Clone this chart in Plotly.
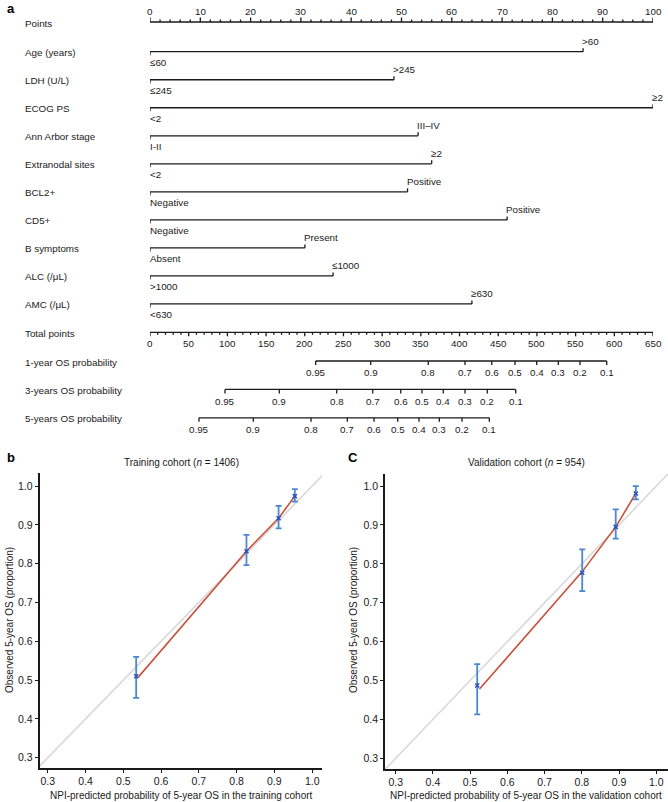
import plotly.graph_objects as go

W, H = 668, 802
FONT = "Liberation Sans, Arial, Helvetica, sans-serif"
INK = "#1a1a1a"

# ---------------- Nomogram data ----------------
variables = ["Age (years)", "LDH (U/L)", "ECOG PS", "Ann Arbor stage", "Extranodal sites",
             "BCL2+", "CD5+", "B symptoms", "ALC (/μL)", "AMC (/μL)"]
low_levels = ["≤60", "≤245", "<2", "I-II", "<2", "Negative", "Negative", "Absent", ">1000", "<630"]
high_levels = [">60", ">245", "≥2", "III–IV", "≥2", "Positive", "Positive", "Present", "≤1000", "≥630"]
high_points = [86.1, 48.5, 100, 53.3, 56.0, 51.2, 71.0, 30.8, 36.4, 64.0]

points_major = list(range(0, 101, 10))
points_minor = [v for v in range(0, 101, 2) if v % 10]
total_major = list(range(0, 651, 50))
total_minor = [v for v in range(0, 651, 10) if v % 50]
TOTAL_MAX = 650

prob_rows = ["1-year OS probability", "3-years OS probability", "5-years OS probability"]
prob_labels = ["0.95", "0.9", "0.8", "0.7", "0.6", "0.5", "0.4", "0.3", "0.2", "0.1"]
os1_total = [214.1, 285.2, 359.6, 407.1, 441.6, 471.7, 499.7, 527.6, 555.7, 590.2]
os3_total = [96.9, 167.1, 241.3, 287.8, 324.0, 351.5, 379.0, 407.1, 435.9, 472.6]
os5_total = [63.3, 133.5, 208.1, 255.0, 289.5, 320.1, 347.6, 373.9, 403.2, 438.5]

# ---------------- Calibration data ----------------
cal_ticks = [0.3, 0.4, 0.5, 0.6, 0.7, 0.8, 0.9, 1.0]
cal_ticktext = ["0.3", "0.4", "0.5", "0.6", "0.7", "0.8", "0.9", "1.0"]

train_pred = [0.534, 0.826, 0.911, 0.954]
train_obs = [0.510, 0.832, 0.917, 0.974]
train_hi = [0.560, 0.874, 0.949, 0.992]
train_lo = [0.454, 0.796, 0.891, 0.960]
train_curve_x = [0.539, 0.826, 0.911, 0.954]
train_curve_y = [0.507, 0.832, 0.917, 0.974]

valid_pred = [0.519, 0.801, 0.891, 0.945]
valid_obs = [0.487, 0.777, 0.895, 0.981]
valid_hi = [0.542, 0.837, 0.940, 1.000]
valid_lo = [0.413, 0.730, 0.865, 0.966]
valid_curve_x = [0.525, 0.801, 0.891, 0.945]
valid_curve_y = [0.478, 0.780, 0.895, 0.981]

# ---------------- Layout helpers (pixel positions) ----------------
def px(x):
    return x / W

def py(y):
    return 1 - y / H

NOMO_BOTTOM = 440
POINTS_Y = 22
var_y = [51.7 + 28.03 * i for i in range(len(variables))]
TOTAL_Y = 332.3
prob_y = [361.0, 389.4, 417.8]

def to_pts(total):
    return total * 100.0 / TOTAL_MAX

fig = go.Figure()
ann = []

def seg_trace(xs, y0, y1, width=1.3, axis=("x", "y")):
    X, Y = [], []
    for v in xs:
        X += [v, v, None]
        Y += [y0, y1, None]
    fig.add_trace(go.Scatter(x=X, y=Y, mode="lines", line=dict(color=INK, width=width),
                             hoverinfo="skip", showlegend=False, xaxis=axis[0], yaxis=axis[1]))

def hline(x0, x1, y, width=1.3):
    fig.add_trace(go.Scatter(x=[x0, x1], y=[y, y], mode="lines", line=dict(color=INK, width=width),
                             hoverinfo="skip", showlegend=False, xaxis="x", yaxis="y"))

def text(x, y, s, xanchor="center", xref="x", yref="y", size=9.8, xshift=0):
    ann.append(dict(x=x, y=y, xref=xref, yref=yref, text=s, showarrow=False,
                    xanchor=xanchor, yanchor="middle", xshift=xshift,
                    font=dict(family=FONT, size=size, color=INK)))

# Row labels
row_names = ["Points"] + variables + ["Total points"] + prob_rows
row_ys = [POINTS_Y] + var_y + [TOTAL_Y] + prob_y
for name, y in zip(row_names, row_ys):
    text(px(23), y + 1, name, xanchor="left", xref="paper")

# Points axis
hline(0, 100, POINTS_Y)
seg_trace(points_major, POINTS_Y, POINTS_Y - 4.5)
seg_trace(points_minor, POINTS_Y, POINTS_Y - 2.5)
for v in points_major:
    text(v, POINTS_Y - 11, str(v))

# Variable axes
for y, lo, hi, hp in zip(var_y, low_levels, high_levels, high_points):
    hline(0, hp, y)
    seg_trace([0], y, y + 3.5)
    seg_trace([hp], y, y - 3.5)
    text(0, y + 10.5, lo, xanchor="left", xshift=-2)
    text(hp, y - 10.3, hi, xanchor="left", xshift=-3)

# Total points axis
hline(0, 100, TOTAL_Y)
seg_trace([to_pts(v) for v in total_major], TOTAL_Y, TOTAL_Y + 4)
seg_trace([to_pts(v) for v in total_minor], TOTAL_Y, TOTAL_Y + 2.5)
for v in total_major:
    text(to_pts(v), TOTAL_Y + 11.5, str(v))

# Probability axes
for y, totals in zip(prob_y, [os1_total, os3_total, os5_total]):
    xs = [to_pts(t) for t in totals]
    hline(xs[0], xs[-1], y)
    seg_trace(xs, y, y + 4)
    for xv, lab in zip(xs, prob_labels):
        text(xv, y + 11.7, lab)

# ---------------- Calibration plots ----------------
def cal_panel(xa, ya, pred, obs, hi, lo, cx, cy):
    fig.add_trace(go.Scatter(x=[0.2, 1.1], y=[0.2, 1.1], mode="lines",
                             line=dict(color="#d9d9d9", width=1.6),
                             hoverinfo="skip", showlegend=False, xaxis=xa, yaxis=ya))
    fig.add_trace(go.Scatter(x=cx, y=cy, mode="lines",
                             line=dict(color="#c8503c", width=1.6),
                             hoverinfo="skip", showlegend=False, xaxis=xa, yaxis=ya))
    fig.add_trace(go.Scatter(
        x=pred, y=obs, mode="markers",
        marker=dict(symbol="x-thin", size=4, color="#2f4fb5", line=dict(color="#2f4fb5", width=1.5)),
        error_y=dict(type="data", symmetric=False,
                     array=[h - o for h, o in zip(hi, obs)],
                     arrayminus=[o - l for o, l in zip(obs, lo)],
                     color="#4a88d4", thickness=1.8, width=3),
        showlegend=False, xaxis=xa, yaxis=ya))

cal_panel("x2", "y2", train_pred, train_obs, train_hi, train_lo, train_curve_x, train_curve_y)
cal_panel("x3", "y3", valid_pred, valid_obs, valid_hi, valid_lo, valid_curve_x, valid_curve_y)

def cal_axis(domain, rng, anchor):
    return dict(domain=domain, range=rng, anchor=anchor, tickvals=cal_ticks, ticktext=cal_ticktext,
                showline=True, linecolor=INK, linewidth=1.5, ticks="outside", ticklen=3,
                tickcolor=INK, tickwidth=1, showgrid=False, zeroline=False,
                tickfont=dict(family=FONT, size=10.5, color=INK))

# panel letters
for x, y, s in [(5, 8, "a"), (5, 457, "b"), (346, 457, "C")]:
    ann.append(dict(x=px(x), y=py(y), xref="paper", yref="paper", text="<b>%s</b>" % s,
                    showarrow=False, xanchor="left", yanchor="middle",
                    font=dict(family=FONT, size=13, color="#000")))

# titles / axis titles
for cxp, title, xtitle, ylx in [
        (181, "Training cohort (<i>n</i> = 1406)",
         "NPI-predicted probability of 5-year OS in the training cohort", 9),
        (526, "Validation cohort (<i>n</i> = 954)",
         "NPI-predicted probability of 5-year OS in the validation cohort", 353)]:
    text(px(cxp), py(462), title, xref="paper", yref="paper", size=10)
    text(px(cxp), py(795), xtitle, xref="paper", yref="paper", size=10)
    ann.append(dict(x=px(ylx), y=py(620), xref="paper", yref="paper",
                    text="Observed 5-year OS (proportion)", showarrow=False, textangle=-90,
                    xanchor="center", yanchor="middle",
                    font=dict(family=FONT, size=10, color=INK)))

fig.update_layout(
    width=W, height=H, margin=dict(l=0, r=0, t=0, b=0),
    paper_bgcolor="white", plot_bgcolor="rgba(0,0,0,0)",
    showlegend=False, annotations=ann,
    xaxis=dict(domain=[px(150), px(653)], range=[0, 100], visible=False, anchor="y"),
    yaxis=dict(domain=[py(NOMO_BOTTOM), 1], range=[NOMO_BOTTOM, 0], visible=False, anchor="x"),
    xaxis2=cal_axis([px(39.5), px(322)], [0.278, 1.026], "y2"),
    yaxis2=cal_axis([py(768), py(473)], [0.2735, 1.0335], "x2"),
    xaxis3=cal_axis([px(385), 1.0], [0.2713, 1.0314], "y3"),
    yaxis3=cal_axis([py(769), py(474)], [0.2725, 1.031], "x3"),
)

fig.write_html("out.html", config={"displayModeBar": False},
               post_script="document.body.style.margin='0';document.body.style.overflow='hidden';")
